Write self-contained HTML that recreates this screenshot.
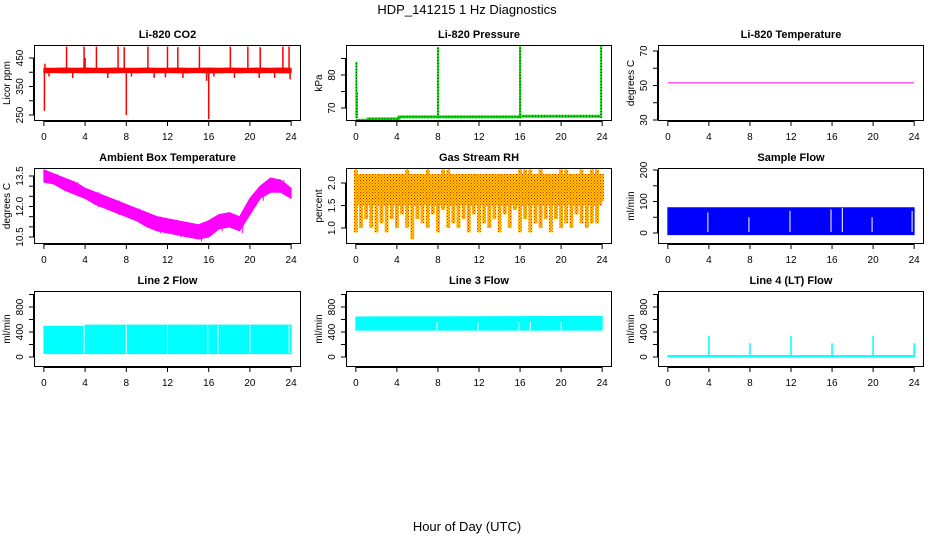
<!DOCTYPE html>
<html><head><meta charset="utf-8"><style>
html,body{margin:0;padding:0;background:#fff;}
svg{display:block;font-family:"Liberation Sans",sans-serif;}
</style></head><body>
<svg id="c" width="936" height="540" viewBox="0 0 936 540">
<text x="467" y="14" text-anchor="middle" font-size="13">HDP_141215  1 Hz Diagnostics</text>
<text x="467" y="531" text-anchor="middle" font-size="13">Hour of Day (UTC)</text>
</svg>
<script>
// ---- data ----
const xTicks = [0,4,8,12,16,20,24];
const co2Hours = [0,1,2,3,4,5,6,7,8,9,10,11,12,13,14,15,16,17,18,19,20,21,22,23,24];
const co2Lo = [398,399,398,399,398,399,398,398,399,398,399,398,399,398,398,399,398,398,399,398,399,398,399,398,398];
const co2Hi = [414,414,415,414,415,414,414,415,414,414,415,414,414,415,414,414,415,414,415,414,414,415,414,415,414];
const co2SpikeHours = [0.05,0.1,2.2,3.9,4.0,5.1,7.2,7.8,8.0,10.1,12.0,13.0,15.1,16.0,18.1,19.8,21.0,23.2,23.8,0.5,2.8,6.2,8.5,10.7,11.8,13.5,15.8,16.5,18.5,20.9,22.4,23.9];
const co2SpikeVals = [265,430,490,490,450,490,490,488,250,490,490,488,490,235,490,490,488,490,490,385,380,380,385,380,382,380,370,385,380,380,380,375];
const pressBaseHours = [0,1.2,1.2,4.2,4.2,16,16,24];
const pressBaseVals = [66.3,66.3,66.7,66.7,67.3,67.3,67.5,67.5];
const pressSpikeHours = [0.05,0.1,8.0,16.0,23.9];
const pressSpikeVals = [84,75,88.5,89.5,89];
const tempHours = [0,24];
const tempVals = [51.5,51.5];
const ambHours = [0,1,2,3,4,5,6,7,8,9,10,11,12,13,14,15,16,17,18,19,20,21,22,23,24];
const ambLo = [13.2,13.1,12.8,12.6,12.4,12.1,11.9,11.7,11.5,11.3,11.0,10.8,10.7,10.6,10.5,10.4,10.5,10.9,11.0,10.8,11.6,12.4,12.7,12.7,12.4];
const ambHi = [13.8,13.6,13.4,13.2,12.9,12.7,12.5,12.3,12.1,11.9,11.7,11.5,11.4,11.3,11.2,11.1,11.3,11.6,11.7,11.5,12.4,13.0,13.4,13.3,12.9];
const rhHours = [0,0.5,1,1.5,2,2.5,3,3.5,4,4.5,5,5.5,6,6.5,7,7.5,8,8.5,9,9.5,10,10.5,11,11.5,12,12.5,13,13.5,14,14.5,15,15.5,16,16.5,17,17.5,18,18.5,19,19.5,20,20.5,21,21.5,22,22.5,23,23.5,24];
const rhLo = [0.9,1.0,1.2,1.0,0.9,1.1,0.9,1.2,1.0,1.3,1.0,0.75,1.2,1.1,1.0,1.3,0.9,1.4,1.0,1.1,1.0,1.2,0.9,1.3,0.9,1.1,1.0,1.2,0.9,1.3,1.0,1.4,0.9,1.2,0.9,1.1,1.0,1.2,0.9,1.2,1.0,1.1,1.0,1.3,1.1,1.0,1.1,1.1,1.6];
const rhHi = [2.3,2.2,2.2,2.2,2.2,2.2,2.2,2.2,2.2,2.2,2.3,2.2,2.2,2.2,2.3,2.2,2.2,2.3,2.3,2.2,2.2,2.2,2.2,2.2,2.2,2.2,2.2,2.2,2.2,2.2,2.2,2.2,2.3,2.3,2.3,2.2,2.3,2.2,2.2,2.2,2.3,2.3,2.2,2.2,2.3,2.2,2.3,2.3,2.2];
const sfLo = -5, sfHi = 80;
const sfGapHours = [3.9,7.9,11.9,15.9,17.0,19.9,23.8];
const sfGapTops = [65,50,70,75,80,50,70];
const l2Hours = [0,4,4,24];
const l2Lo = [55,55,55,55];
const l2Hi = [490,490,510,510];
const l2GapHours = [3.9,8.0,12.0,15.9,16.9,20.0,23.8];
const l3Hours = [0,24];
const l3Lo = [430,430];
const l3Hi = [640,650];
const l3GapHours = [7.9,11.9,15.9,17.0,20.0];
const l4Base = 10;
const l4SpikeHours = [4.0,8.0,12.0,16.0,20.0,24.0];
const l4SpikeVals = [340,220,340,220,340,220];

// ---- helpers ----
const NS = "http://www.w3.org/2000/svg";
const svg = document.getElementById('c');
function mk(tag, attrs, parent){ const e=document.createElementNS(NS,tag); for(const k in attrs) e.setAttribute(k,attrs[k]); (parent||svg).appendChild(e); return e; }
const cols = [[34,301],[346,612],[658,924]];
const rows = [[45,121],[168,244],[291,367]];
function panel(ci, ri, title, yl, v1,p1,v2,p2, yticks, ylabels, name){
  const [L,R]=cols[ci], [T,B]=rows[ri];
  const g = mk('g',{});
  
  
  const x = h => L + (h+0.96)/25.92*(R-L);
  const y = v => p1 + (v-v1)*(p2-p1)/(v2-v1);
  const clip = mk('clipPath',{id:'cl'+name},g);
  mk('rect',{x:L,y:T,width:R-L,height:B-T},clip);
  const plot = mk('g',{'clip-path':'url(#cl'+name+')'},g);
  
  
  const t = mk('text',{x:(L+R)/2,y:T-7,'text-anchor':'middle','font-size':11,'font-weight':'bold'},g);
  t.textContent = title;
  
  
  const xa = mk('g',{stroke:'#000','stroke-width':1},g);
  
  
  mk('line',{x1:x(0),x2:x(24),y1:B+0.5,y2:B+0.5},xa);
  xTicks.forEach(h=>{
    mk('line',{x1:x(h),x2:x(h),y1:B,y2:B+5},xa);
    const tl = mk('text',{x:x(h),y:B+19,'text-anchor':'middle','font-size':10,stroke:'none'},g);
    tl.textContent = h;
    
    
  });
  const ya = mk('g',{stroke:'#000','stroke-width':1},g);
  
  
  mk('line',{x1:L-0.5,x2:L-0.5,y1:y(yticks[0]),y2:y(yticks[yticks.length-1])},ya);
  yticks.forEach(v=>{ mk('line',{x1:L-5,x2:L,y1:y(v),y2:y(v)},ya); });
  ylabels.forEach(v=>{
    const tl = mk('text',{x:0,y:0,'text-anchor':'middle','font-size':10,transform:`translate(${L-11},${y(v)}) rotate(-90)`},g);
    tl.textContent = v;
    
    
  });
  const yt = mk('text',{x:0,y:0,'text-anchor':'middle','font-size':10,transform:`translate(${L-24},${(T+B)/2}) rotate(-90)`},g);
  yt.textContent = yl;
  
  
  const bx = mk('rect',{x:L+0.5,y:T+0.5,width:R-L-1,height:B-T-1,fill:'none',stroke:'#000','stroke-width':1},g);
  
  
  return {x,y,plot};
}
function band(p, hours, lo, hi, color, name){
  let pts = hours.map((h,i)=>p.x(h)+','+p.y(hi[i]));
  for(let i=hours.length-1;i>=0;i--) pts.push(p.x(hours[i])+','+p.y(lo[i]));
  const e = mk('polygon',{points:pts.join(' '),fill:color,stroke:color,'stroke-width':1},p.plot);
  
  
  return e;
}
function vline(p, h, v1, v2, color, w, name, dash){
  const a = {x1:p.x(h),x2:p.x(h),y1:p.y(v1),y2:p.y(v2),stroke:color,'stroke-width':w};
  if(dash) a['stroke-dasharray']=dash;
  const e = mk('line',a,p.plot);
  
  
}

// CO2
let p = panel(0,0,'Li-820 CO2','Licor ppm',450,58,250,115,[250,300,350,400,450],[250,350,450],'co2');
band(p, co2Hours, co2Lo, co2Hi, '#ff0000', 'co2-series');
co2SpikeHours.forEach((h,i)=>vline(p,h,406,co2SpikeVals[i],'#ff0000',1.5,'co2-spike'));

// Pressure
p = panel(1,0,'Li-820 Pressure','kPa',70,108,80,75,[70,75,80,85],[70,80],'pressure');
{
  const pts = pressBaseHours.map((h,i)=>p.x(h)+','+p.y(pressBaseVals[i])).join(' ');
  const e = mk('polyline',{points:pts,fill:'none',stroke:'#00ee00','stroke-width':3},p.plot);
  
  
  const e2 = mk('polyline',{points:pts,fill:'none',stroke:'#000','stroke-width':1,'stroke-dasharray':'1 2'},p.plot);
  
  
}
pressSpikeHours.forEach((h,i)=>{ vline(p,h,67,pressSpikeVals[i],'#00ee00',2,'pressure-spike'); vline(p,h,67,pressSpikeVals[i],'#000',1,'pressure-spike-points','1 2'); });

// Temperature
p = panel(2,0,'Li-820 Temperature','degrees C',30,120,70,51,[30,40,50,60,70],[30,50,70],'li820-temp');
{
  const e = mk('polyline',{points:tempHours.map((h,i)=>p.x(h)+','+p.y(tempVals[i])).join(' '),fill:'none',stroke:'#ff00ff','stroke-width':1},p.plot);
  
  
}

// Ambient
p = panel(0,1,'Ambient Box Temperature','degrees C',10.5,237,13.5,176,[10.5,11,11.5,12,12.5,13,13.5],['10.5','12.0','13.5'],'ambient');
band(p, ambHours, ambLo, ambHi, '#ff00ff', 'ambient-series');
ambHours.forEach((h,i)=>{ if(i%2===1) vline(p,h+0.3,ambLo[i]-0.12,ambHi[i],'#ff00ff',1,'ambient-dip'); });

// RH
p = panel(1,1,'Gas Stream RH','percent',1.0,228,2.0,183,[1.0,1.5,2.0],['1.0','1.5','2.0'],'rh');
{
  const defs = mk('defs',{});
  const pat = mk('pattern',{id:'rhpat',width:3,height:3,patternUnits:'userSpaceOnUse'},defs);
  mk('rect',{x:0,y:0,width:3,height:3,fill:'#ffcc00'},pat);
  mk('rect',{x:0,y:0,width:1,height:1,fill:'#ff1a00'},pat);
  mk('rect',{x:1.5,y:1.5,width:1,height:1,fill:'#ff1a00'},pat);
}
band(p, [0,24], [1.5,1.5], [2.2,2.2], 'url(#rhpat)', 'rh-series-core').setAttribute('stroke','none');
rhHours.forEach((h,i)=>{
  const x0 = p.x(h), w = (p.x(0.5)-p.x(0))*0.75;
  const e = mk('rect',{x:x0-w/2,y:p.y(rhHi[i]),width:w,height:p.y(rhLo[i])-p.y(rhHi[i]),fill:'url(#rhpat)'},p.plot);
  
  
});

// Sample flow
p = panel(2,1,'Sample Flow','ml/min',0,233,200,170,[0,50,100,150,200],[0,100,200],'sample-flow');
band(p, [0,24], [sfLo,sfLo], [sfHi,sfHi], '#0000ff', 'sample-flow-series');
sfGapHours.forEach((h,i)=>vline(p,h,sfLo+8,sfGapTops[i],'#fff',1,'sample-flow-gap'));

// Line 2
p = panel(0,2,'Line 2 Flow','ml/min',0,357,800,307,[0,200,400,600,800,1000],[0,400,800],'line2');
band(p, l2Hours, l2Lo, l2Hi, '#00ffff', 'line2-series');
l2GapHours.forEach(h=>vline(p,h,60,500,'#fff',1,'line2-gap'));

// Line 3
p = panel(1,2,'Line 3 Flow','ml/min',0,357,800,307,[0,200,400,600,800,1000],[0,400,800],'line3');
band(p, l3Hours, l3Lo, l3Hi, '#00ffff', 'line3-series');
l3GapHours.forEach(h=>vline(p,h,435,560,'#fff',1,'line3-gap'));

// Line 4
p = panel(2,2,'Line 4 (LT) Flow','ml/min',0,357,800,307,[0,200,400,600,800,1000],[0,400,800],'line4');
band(p, [0,24], [l4Base-8,l4Base-8], [l4Base+12,l4Base+12], '#00ffff', 'line4-series');
l4SpikeHours.forEach((h,i)=>vline(p,h,l4Base,l4SpikeVals[i],'#00ffff',1.5,'line4-spike'));
</script>
</body></html>
